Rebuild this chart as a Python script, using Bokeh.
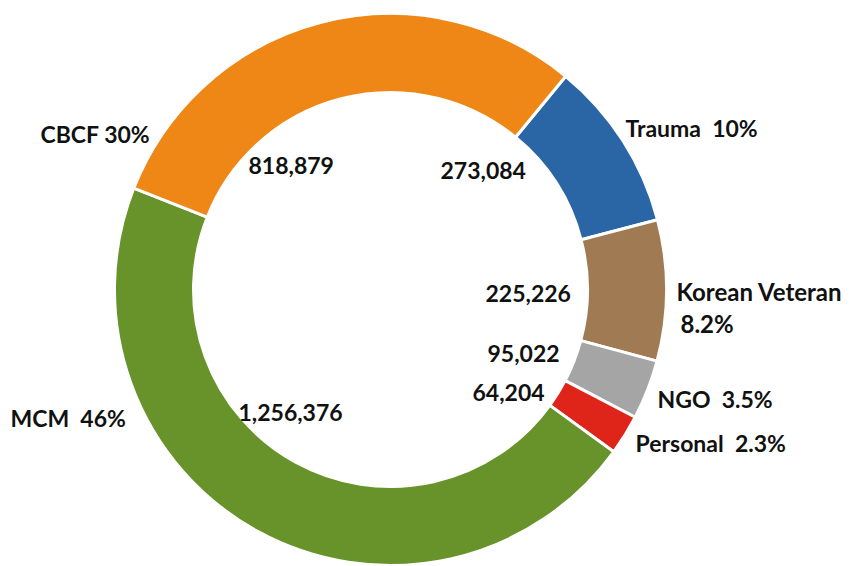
import numpy as np
from bokeh.plotting import figure
from bokeh.models import Range1d, ColumnDataSource
from bokeh.core.properties import value
from bokeh.embed import file_html
from bokeh.resources import INLINE

# ---- data ----
categories = ["Trauma", "Korean Veteran", "NGO", "Personal", "MCM", "CBCF"]
amounts = [273084, 225226, 95022, 64204, 1256376, 818879]
amount_labels = ["273,084", "225,226", "95,022", "64,204", "1,256,376", "818,879"]
NB = "\u00a0"
pct_labels = ["Trauma " + NB + "10%", "Korean Veteran\n8.2%", "NGO " + NB + "3.5%",
              "Personal " + NB + "2.3%", "MCM " + NB + "46%", "CBCF 30%"]
colors = ["#2A66A6", "#A07A52", "#A5A5A5", "#DF2519", "#68932A", "#EE8715"]

# ---- layout (pixels, y measured from top) ----
W, H = 850, 566
cx, cy_top = 390, 289
R_out, R_in = 276, 197
start_deg = 39.4  # clockwise from 12 o'clock

amt_pos = [(440, 170), (485, 293), (487, 353), (472, 392), (238, 412), (248, 165)]
cat_pos = [(625, 127), (676, 291), (657, 398), (635, 442), (10, 417), (40, 133)]

p = figure(width=W, height=H, x_range=Range1d(0, W), y_range=Range1d(0, H),
           output_backend="svg", toolbar_location=None, min_border=0)
p.axis.visible = False
p.grid.visible = False
p.outline_line_color = None
p.background_fill_color = "white"

vals = np.array(amounts, dtype=float)
frac = vals / vals.sum()
cum = np.concatenate([[0.0], np.cumsum(frac)]) * 360.0
theta1 = start_deg + cum[:-1]
theta2 = start_deg + cum[1:]
# bokeh angles: counterclockwise from +x
start_ang = np.radians(90.0 - theta2)
end_ang = np.radians(90.0 - theta1)

src = ColumnDataSource(dict(start=start_ang, end=end_ang, color=colors, cat=categories))
p.annular_wedge(x=cx, y=H - cy_top, inner_radius=R_in, outer_radius=R_out,
                start_angle="start", end_angle="end", fill_color="color",
                line_color="white", line_width=3, source=src)

font = value("Lato")
fs = "23px"

p.text(x=[q[0] for q in amt_pos], y=[H - q[1] for q in amt_pos], text=amount_labels,
       text_font=font, text_font_size=fs, text_font_style="bold", text_color="#111111",
       text_align="left", text_baseline="middle")

single = [i for i, t in enumerate(pct_labels) if "\n" not in t]
p.text(x=[cat_pos[i][0] for i in single], y=[H - cat_pos[i][1] for i in single],
       text=[pct_labels[i] for i in single],
       text_font=font, text_font_size=fs, text_font_style="bold", text_color="#111111",
       text_align="left", text_baseline="middle")
for i, t in enumerate(pct_labels):
    if "\n" in t:
        l1, l2 = t.split("\n")
        x0, y0 = cat_pos[i]
        p.text(x=[x0, x0 + 4], y=[H - y0, H - (y0 + 32)], text=[l1, l2],
               text_font=font, text_font_size="24px", text_font_style="bold", text_color="#111111",
               text_align="left", text_baseline="middle")

open("out.html", "w").write(file_html(p, INLINE))
